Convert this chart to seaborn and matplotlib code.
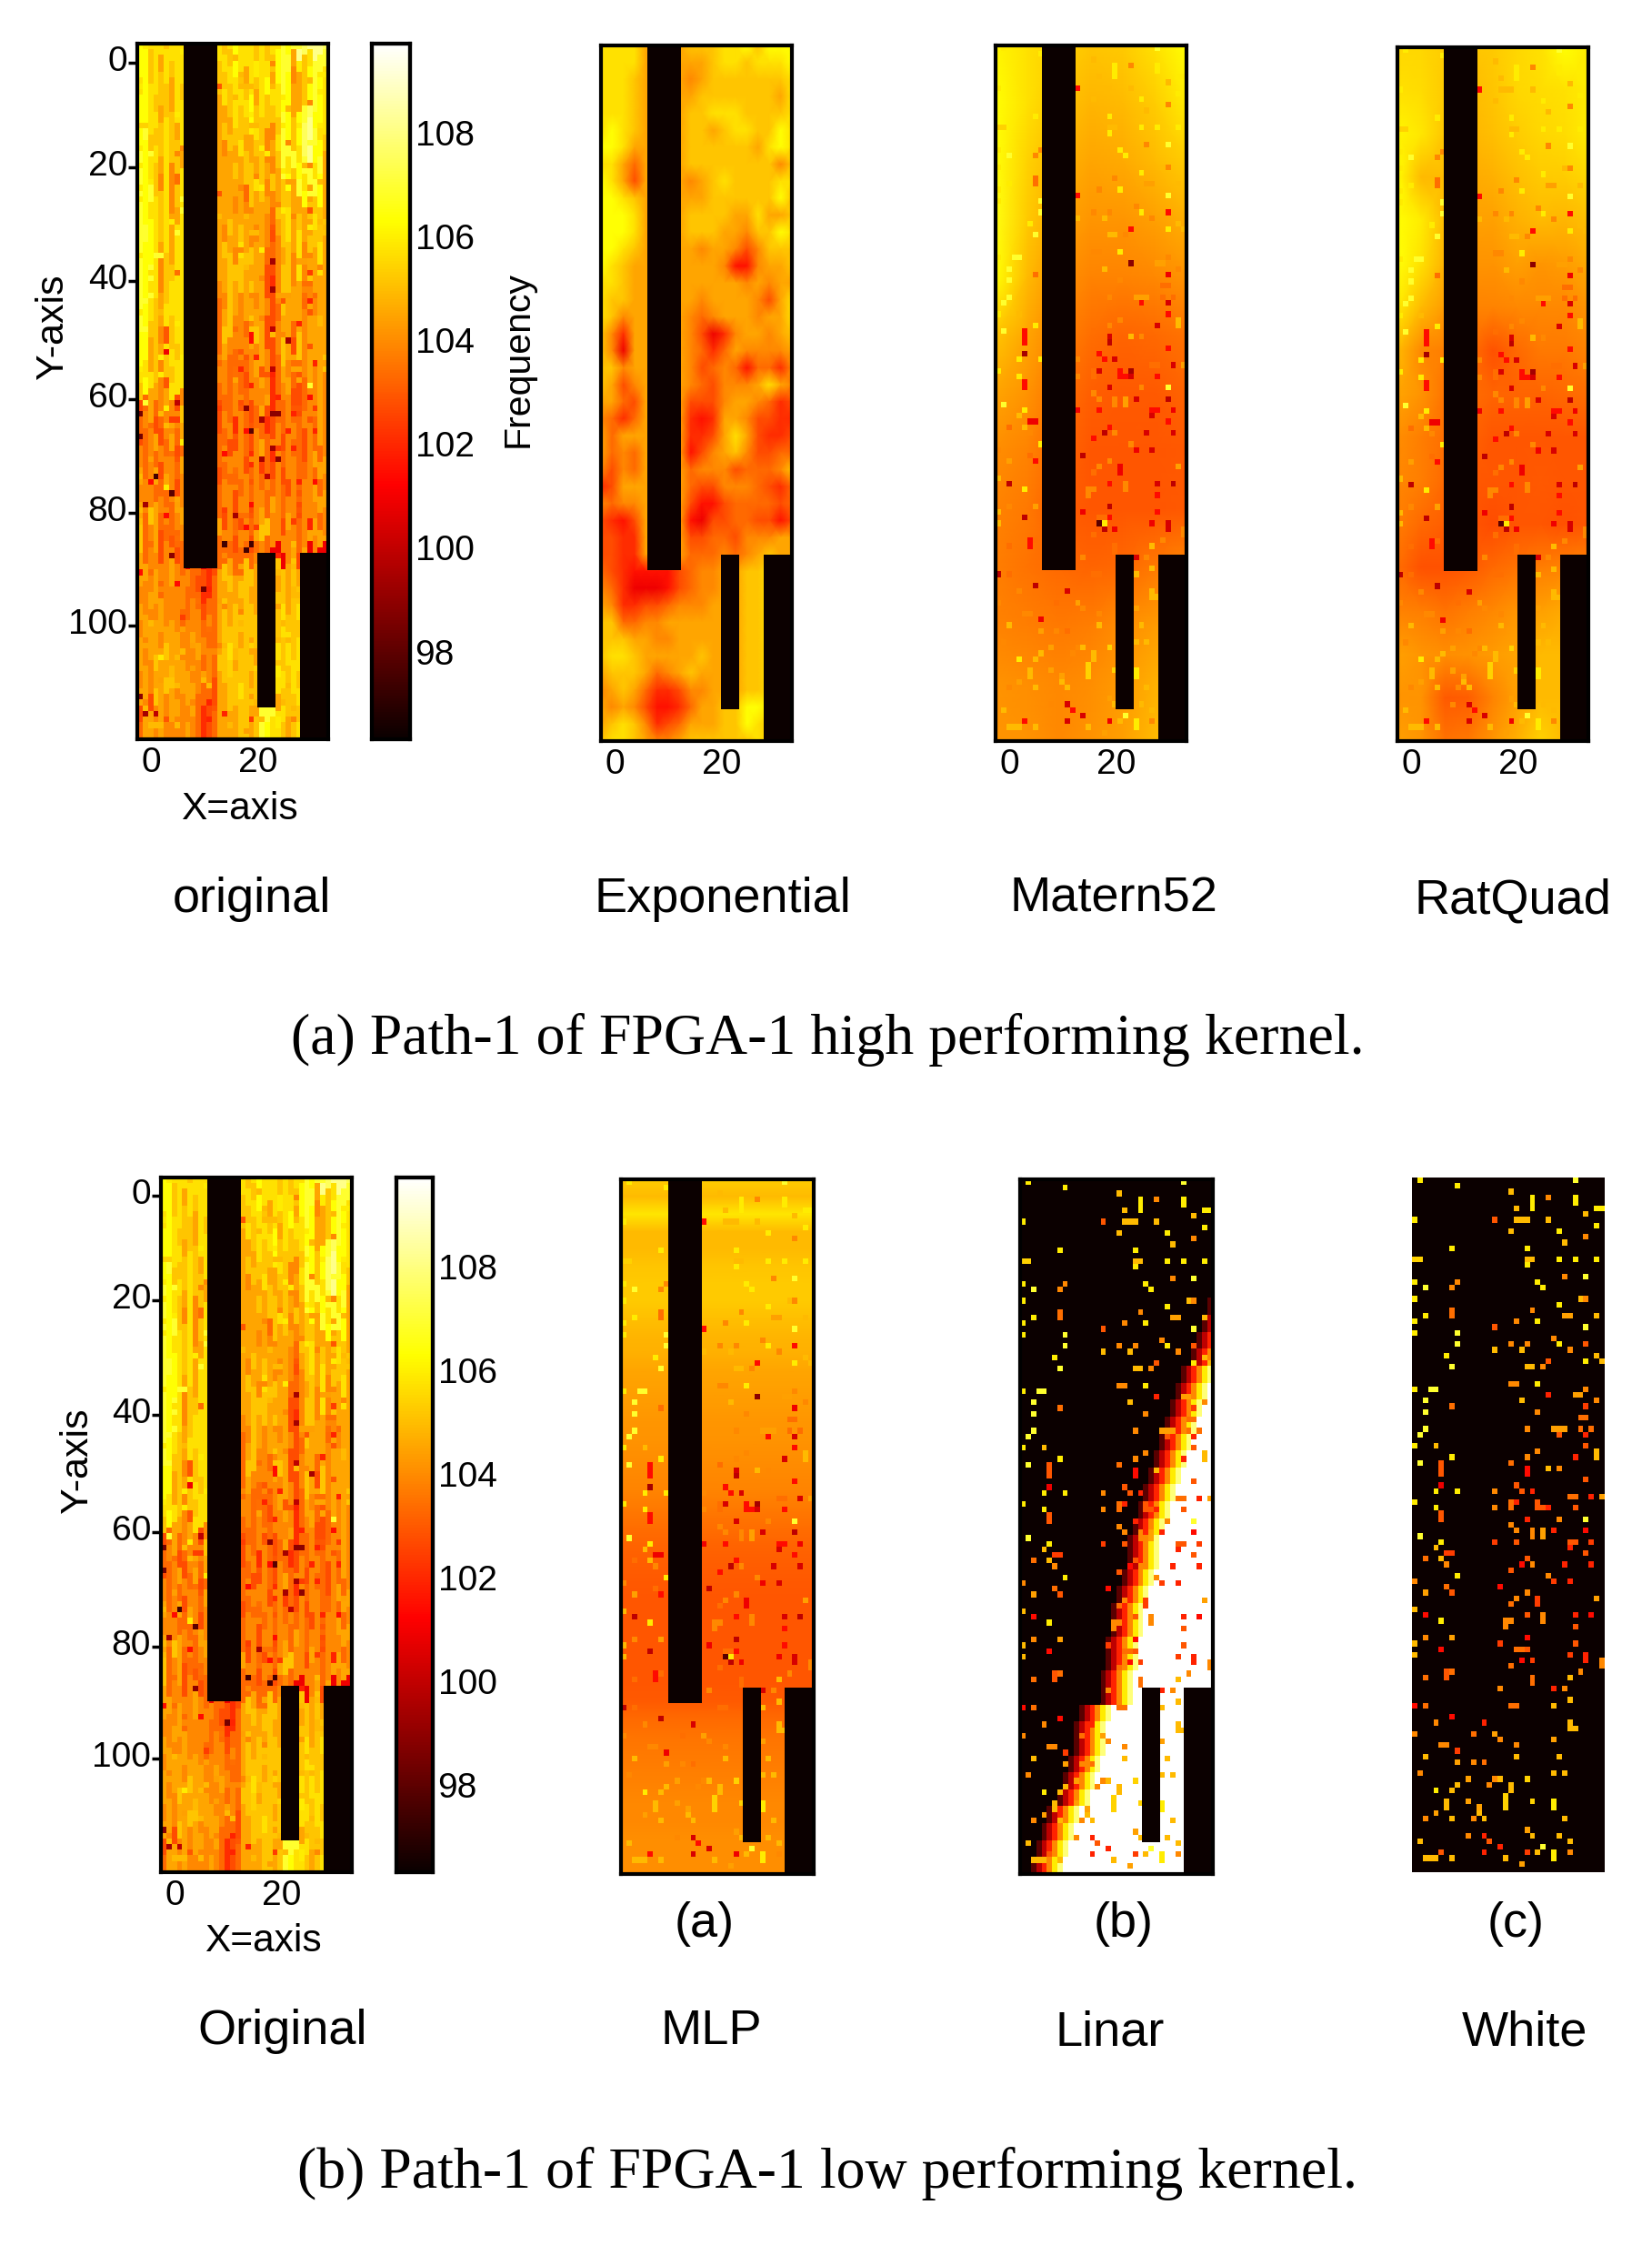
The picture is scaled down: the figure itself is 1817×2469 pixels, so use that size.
import numpy as np
import matplotlib
matplotlib.use("Agg")
import matplotlib.pyplot as plt
from matplotlib.transforms import Affine2D, ScaledTranslation
import seaborn as sns

sns.set_style("white")
plt.rcParams["font.family"] = ["Liberation Sans", "DejaVu Sans"]
for key in ("text.color", "xtick.color", "ytick.color", "axes.labelcolor"):
    plt.rcParams[key] = "black"

W, H = 1817, 2469
VMIN, VMAX = 96.4, 109.8
N_COLS, N_ROWS = 36, 123

# ---------- data: level codes, every 3 rows ----------
LEVEL_CODES = "0123456789ABC"
LEVEL_START, LEVEL_STEP = 101.0, 0.6

original_left = ["998887888","997868788","897878688","998777687","998867788","9A8778768","A97878778",
    "A98768576","A98758578","A9A878578","A98878668","AA9878688","A99868688","A99857788","A98857888",
    "A98767888","A98768788","997758788","996768878","886757788","798657888",
    "346456535","456345657","345635646","545454534","645635546","555446535","655654465","747645456",
    "745634545","645535634","665655654","555645555","656565555","565665654","666656665","656767665",
    "565666766","665767656","353565665","466565555"]
original_mid = ["000000"] * 31 + ["544323","443224","454344","555454","565544","556454","655454","665443","564233","654234"]
original_right = ["878988878788A9ACBCCCB","787988878879AA6678AAA","778876878969A95679A98","687887968788996679A98",
    "667878978778A969AB998","676777687557A979BCA88","657686677568AA78BC997","666767767657A8A9AC8A6",
    "666667787576797A8AA96","666564767656776696796","666665666547786767876","657676556536786866777",
    "676586766445676857686","667777666335775856686","567676766325775657666","457656656535766645566",
    "467556766334666656666","477554676335764756666","465455556535763756666","554644566534656656567",
    "454543556524564346565","344534345324453345565","354254346234454455465","445354354435355435465",
    "453554256425454435645","345453455435355445466","454345454445435455645","455355355465455355566",
    "635435456755365455645","455355367455555456566","444444455500056360000","676667760007767600000",
    "667677660006767700000","676767760007867800000","676777770007877700000","677767670007787800000",
    "778677760008787800000","677777670007878700000","667787770008778800000","66767766AAA6877700000",
    "66667767A988767800000"]

exponential_rows = ["888866667778897999","888866666678878889","888766665677777778","888766666777777768",
    "888766667788877778","898766667767887798","998666667777776898","886466667777777757",
    "986366665678777788","998766666677777797","999866667777668667","999866667776657798",
    "998766666566535777","987666666665115667","887666666666656566","877666666566665368",
    "875666665456665668","752666665302566567","750666665424655556","775666665345414425",
    "763566665435556865","664366663335665423","542466662126653322","646666662236863223",
    "645466661356753344","535466664555344457","236666664335554324","545566663113444434",
    "321366661033443313","332266663344355566","332266664445456766",
    "432111134556677876","542000134556677866","652233455566677866","774455666666677866",
    "777665566666677886","788766666766677886","677764567666677886","567642235566677886",
    "656531124667799866","678752346667798766","788765567777778766"]

matern_rows = [
    [106.2,105.8,105.5,105.2,105.3,105.8,106.4],[106.4,105.8,105.2,104.9,105.0,105.4,106.0],
    [106.5,105.5,104.9,104.6,104.7,105.0,105.4],[106.6,105.3,104.6,104.3,104.3,104.5,104.8],
    [106.4,105.0,104.2,103.9,103.9,104.0,104.2],[105.2,104.6,103.9,103.5,103.3,103.4,103.6],
    [104.6,104.2,103.6,103.2,103.1,103.1,103.3],[104.1,103.9,103.4,103.0,103.0,103.0,103.1],
    [103.9,103.7,103.2,103.0,103.0,103.0,103.1],[103.8,103.6,103.4,103.3,103.4,103.7,104.0],
    [103.9,103.8,103.7,103.8,104.1,104.4,104.6],[104.2,104.1,104.0,104.1,104.4,104.8,105.0],
    [104.3,104.2,104.0,104.2,104.5,105.0,105.0]]

ratquad_rows = [
    [105.6,105.6,105.4,105.2,105.3,105.6,105.8,106.4,106.0],[105.8,105.7,105.3,105.0,105.2,105.6,105.7,105.8,106.0],
    [106.2,105.9,105.2,104.9,105.1,105.4,105.6,105.7,106.0],[106.3,105.0,105.0,104.7,104.8,105.1,105.3,105.4,105.6],
    [106.4,106.0,105.0,104.5,104.5,104.8,105.0,104.9,105.1],[106.5,105.8,104.8,104.2,104.2,104.5,104.3,104.4,104.7],
    [106.0,105.0,104.4,103.9,103.9,104.0,104.0,104.0,104.2],[105.0,104.0,103.8,103.6,102.9,103.4,103.7,103.7,103.9],
    [104.6,104.2,103.6,103.5,103.3,103.3,103.3,103.4,103.5],[104.1,103.8,103.5,103.3,103.0,103.0,103.0,103.0,103.0],
    [104.0,103.8,103.4,103.1,103.0,103.0,103.1,103.0,103.0],[103.8,103.4,103.2,103.0,102.8,103.0,103.0,102.9,103.0],
    [103.5,102.9,102.9,103.1,103.4,103.6,103.8,103.9,104.0],[103.9,103.8,103.6,103.8,104.0,104.3,104.5,104.7,104.7],
    [104.5,104.3,104.1,104.2,104.4,104.6,105.0,105.0,105.0],[104.3,104.2,103.1,103.2,103.9,104.5,105.0,105.0,105.0],
    [104.5,104.3,103.6,103.7,104.3,104.8,105.5,105.0,105.0]]

mlp_profile = [105.4,105.0,105.9,105.0,105.0,105.2,105.3,105.3,105.1,104.9,104.8,104.6,104.5,104.4,
    104.3,104.2,104.1,104.0,103.9,103.7,103.5,103.3,103.2,103.1,103.0,103.0,103.0,103.0,103.0,103.0,
    103.1,103.4,103.6,103.7,103.8,103.9,104.0,104.0,104.1,104.1,104.1]

linar_edge = [40,40,40,40,40,40,36,35,34,33,32,30,29,28,27,26,25,24,23,22,21,20,20,19,18,17,17,16,16,15,15,
    11,10,10,9,8,7,5,4,3,2]
linar_band = [98.0,100.0,102.0,104.0,106.0,108.0]

# fabric blocks without frequency data: column start, column end, row start, row end
blocked_regions = [(8.8, 15.1, 0, 92.8), (22.7, 26.1, 90, 117.4), (30.6, 36, 90, 123)]

# measured cells (column, row, frequency)
measured_cells = [
 (1,0,106),(8,1,106),(18,2,105),(22,3,106),(22,4,106),(22,5,106),(25,3,104),(30,0,107),(30,3,106),(30,4,106),
 (34,5,106),(35,5,106),(32,6,105),(34,8,106),(19,5,105),(15,7,103),(19,7,105),(20,7,105),(21,7,105),(25,7,105),
 (18,9,105),(27,9,106),(32,10,104),(28,11,105),(21,12,106),(7,12,106),(0,7,106),(0,14,105.5),(1,14,105.5),
 (21,14,105),(22,14,105),(21,15,106),(27,14,106),(30,14,106),(34,14,106),(28,17,104),(32,17,107),(23,18,106),
 (24,19,106),(0,18,106),(2,19,107),(8,18,104),(7,19,104),(0,21,106),(27,22,106),(31,21,105),(32,21,104),(22,23,104),
 (7,23,103.5),(7,24,103.5),(2,24,106),(28,24,104.5),(29,24,104.5),(34,24,105),(19,25,104),(15,26,103),(23,25,106),
 (32,26,107),(0,25,106),(0,27,106),(8,27,107),(8,29,107),(26,28,104),(27,29,106),(18,29,104),(21,29,104),(20,30,105),
 (15,30,105),(32,29,103),(29,30,104),(6,31,106),(25,32,103),(24,33,104),(32,32,106),(34,31,105),(35,32,105),(7,33,107),
 (21,33,105),(22,33,105),(18,36,104),(19,36,104),(23,36,106),(0,37,106),(4,37,107),(3,37,107),(25,38,102),(30,38,104.5),
 (31,38,104.5),(32,37,104),(2,39,107),(20,39,105),(34,39,104),(7,40,103.5),(32,40,102.5),(2,41,107),(23,41,104),(31,42,103.5),
 (32,42,103.5),(2,44,107),(1,45,107),(21,44,104),(26,44,104.5),(27,44,104.5),(28,44,104.5),(27,45,103),(32,45,102),
 (33,44,103.5),(31,44,103.5),(0,47,106),(4,47,105),(23,48,104),(32,47,103),(1,50,107),(7,49,106),(21,49,104),(18,50,103.5),
 (30,49,102),(34,48,105),(34,49,105),(5,50,103),(5,51,103),(5,52,103),(25,51,105),(27,51,104),(21,51,101.5),(21,52,101.5),
 (32,53,103),(5,54,101),(19,54,103),(20,55,103),(22,55,102),(4,55,106),(8,55,106),(15,55,104),(29,56,103.5),(30,56,103.5),
 (33,56,102),(35,56,104.5),(0,57,106),(18,57,103.5),(18,58,103.5),(19,57,102),(23,57,103),(23,58,103),(24,58,103),(25,58,102),
 (4,58,106),(15,58,104),(30,58,103),(5,59,103),(5,60,103),(21,60,102),(27,60,104),(32,60,107),(18,61,104),(19,62,104),
 (22,62,104),(22,63,104),(24,62,104.5),(24,63,104.5),(26,62,102),(32,62,101.5),(1,63,107),(5,64,106),(4,65,105),(15,64,102.5),
 (19,64,103),(29,64,103),(30,64,103),(33,64,102.5),(32,66,103),(6,66,102.5),(7,66,102.5),(29,65,102),(2,67,103.5),(5,67,105),
 (6,68,104),(21,67,103),(20,68,101.5),(22,68,104),(28,68,102),(33,68,102),(18,69,103),(8,70,106),(25,70,104),(26,71,102.5),
 (29,71,102),(0,71,104),(16,72,101.5),(6,72,103.5),(7,73,103),(2,73,104.5),(21,73,104),(19,74,104),(18,75,103.5),(23,74,102.5),
 (23,75,102.5),(34,74,104.5),(0,76,105),(2,77,101.5),(5,78,106),(17,78,104),(17,79,104),(18,78,104),(21,77,103),(24,77,104),
 (24,78,104),(30,77,102),(33,77,101.5),(30,79,103),(2,81,104),(7,81,104.5),(21,81,101.5),(0,82,105),(16,82,102.5),(30,82,103),
 (19,83,103.5),(20,83,103.5),(21,83,103),(5,83,101.5),(0,84,105),(20,85,101.5),(22,85,102.5),(29,84,102.5),(32,84,102),(32,85,102),
 (35,85,104),(35,86,104),(18,86,103.5),(31,87,104),(29,88,105),(2,88,103.5),(6,87,103),(6,88,103),(7,87,103.5),(22,88,103.5),
 (22,89,103.5),(16,90,104),(26,90,102),(28,90,104),(29,92,105),(0,93,101.5),(2,93,103.5),(18,93,103.5),(19,93,103.5),(26,93,105),
 (7,95,101.5),(13,96,102),(4,96,104),(29,96,105),(29,97,105),(30,97,105),(0,98,104),(11,98,103.5),(15,98,104.5),(16,99,104),
 (26,99,104.5),(5,100,104),(6,100,104),(19,100,104),(8,101,102.5),(2,102,105),(19,102,105),(27,102,105),(8,103,104.5),(11,103,104),
 (13,103,103.5),(26,105,105),(28,105,105),(1,105,104),(15,106,104),(16,106,105),(10,106,104.5),(21,106,105.5),(8,107,105),(14,107,104),
 (18,107,105),(18,108,105),(4,108,106),(7,108,105),(10,110,104.5),(22,110,105.5),(17,109,105.5),(17,110,105.5),(17,111,105.5),
 (6,110,105),(6,111,105),(26,110,106),(26,111,106),(12,111,104.5),(28,113,105),(4,112,104.5),(2,113,104),(7,113,105),(12,112,105),
 (11,113,104),(13,113,105),(21,115,104.5),(22,116,105),(10,116,104),(13,116,102),(14,117,103),(27,116,105),(1,117,105),(29,117,105),
 (16,118,102),(24,118,107),(23,119,105),(5,119,103),(13,119,102),(21,119,102.5),(29,119,104),(2,120,105),(3,120,105),(4,120,105),
 (7,120,105),(17,120,105),(26,119,106),(26,120,106),(20,121,104.5)]

original_dark_cells = [(21,68,98),(0,65,98.5),(0,69,98.5),(3,76,97.5),(6,79,98),(1,81,99.5),(16,88,97.5),(20,89,97.5),
 (21,88,97.5),(6,90,99),(12,96,98.5),(0,115,99),(1,118,99.5),(3,118,100),(20,64,99),(25,65,99),(26,65,99),(23,66,99.5),
 (25,71,99.5),(23,73,99.5),(26,73,99),(25,38,99.5),(25,43,99.5),(25,50,100),(28,52,99.5),(25,57,100),(18,83,99.5),
 (7,63,100),(24,76,100)]
fit_dark_cells = [(25,38,99),(19,84,98),(20,84,106),(25,57,99.5),(21,51,100.5),(5,54,99.5)]

x_ticks = [0, 20]
y_ticks = [0, 20, 40, 60, 80, 100]
y_tick_rows = [3.3, 21.8, 42.0, 62.8, 83.0, 102.9]
cbar_ticks = [98, 100, 102, 104, 106, 108]
X_ORIGIN = 1.5

titles_top = ["original", "Exponential", "Matern52", "RatQuad"]
titles_bottom = ["Original", "MLP", "Linar", "White"]
sub_labels = ["(a)", "(b)", "(c)"]
caption_a = "(a) Path-1 of FPGA-1 high performing kernel."
caption_b = "(b) Path-1 of FPGA-1 low performing kernel."


def decode(rows):
    return np.array([[LEVEL_START + LEVEL_STEP * LEVEL_CODES.index(ch) for ch in row] for row in rows])


def paint(grid, cells, fit_shift=False):
    for c, r, v in cells:
        grid[r, c] = v - 1.5 if (fit_shift and v <= 103) else v
    return grid


def original_grid():
    rows = [a + b + c for a, b, c in zip(original_left, original_mid, original_right)]
    coded = decode(rows)
    grid = np.zeros((N_ROWS, N_COLS))
    # the 3-row readings are staggered by column so that the cells do not line up in bands
    for r in range(N_ROWS):
        for c in range(N_COLS):
            grid[r, c] = coded[min((r + c % 3) // 3, len(rows) - 1), c]
    paint(grid, measured_cells)
    paint(grid, original_dark_cells)
    return grid


def overlay_grid():
    grid = np.full((N_ROWS, N_COLS), np.nan)
    paint(grid, measured_cells, fit_shift=True)
    paint(grid, fit_dark_cells)
    return grid


def linar_grid():
    grid = np.full((N_ROWS, N_COLS), VMAX)
    for i, edge in enumerate(linar_edge):
        for r in range(3 * i, min(3 * i + 3, N_ROWS)):
            grid[r, :min(edge, N_COLS)] = VMIN
            for k, v in enumerate(linar_band):
                if edge + k < N_COLS:
                    grid[r, edge + k] = v
    return paint(grid, measured_cells)


def white_grid():
    grid = np.full((N_ROWS, N_COLS), VMIN)
    return paint(grid, measured_cells)


fig = plt.figure(figsize=(W / 100, H / 100), dpi=100)
fig.patch.set_facecolor("white")


def make_ax(box):
    x0, y0, x1, y1 = box
    return fig.add_axes([x0 / W, 1 - y1 / H, (x1 - x0) / W, (y1 - y0) / H])


def hm(ax, data, **kw):
    sns.heatmap(data, ax=ax, cmap="hot", vmin=VMIN, vmax=VMAX, xticklabels=False, yticklabels=False,
                cbar=kw.pop("cbar", False), **kw)


def smooth(ax, coarse, **kw):
    n_y, n_x = coarse.shape
    hm(ax, coarse, shading="gouraud", **kw)
    ax.collections[-1].set_transform(Affine2D().scale(N_COLS / (n_x - 1), N_ROWS / (n_y - 1)) + ax.transData)


def draw_blocks(ax):
    for c0, c1, r0, r1 in blocked_regions:
        hm(ax, np.array([[VMIN]]))
        ax.collections[-1].set_transform(Affine2D().scale(c1 - c0, r1 - r0).translate(c0, r0) + ax.transData)


def shift_labels(labels, dx, dy):
    for lb in labels:
        lb.set_transform(lb.get_transform() + ScaledTranslation(dx / 100, dy / 100, fig.dpi_scale_trans))


def finish(ax, show_x=True, show_y=False, frame=True):
    ax.set_xlim(0, N_COLS)
    ax.set_ylim(N_ROWS, 0)
    if show_x:
        ax.set_xticks([v + X_ORIGIN for v in x_ticks])
        ax.set_xticklabels([str(v) for v in x_ticks], fontsize=28)
        ax.tick_params(axis="x", bottom=True, direction="in", length=8, width=2.5, pad=6, color="black")
        shift_labels(ax.get_xticklabels(), 7, 0)
    else:
        ax.set_xticks([])
    if show_y:
        ax.set_yticks(y_tick_rows)
        ax.set_yticklabels([str(v) for v in y_ticks], fontsize=28, rotation=0)
        ax.tick_params(axis="y", left=True, direction="inout", length=14, width=2.5, pad=1, color="black")
        shift_labels(ax.get_yticklabels(), 0, 5)
    else:
        ax.set_yticks([])
    for s in ax.spines.values():
        s.set_visible(frame)
        s.set_linewidth(3)
        s.set_color("black")
    ax.set_zorder(2)


def original_panel(ax, cax):
    hm(ax, original_grid(), cbar=True, cbar_ax=cax)
    draw_blocks(ax)
    cax.set_yticks(cbar_ticks)
    cax.set_yticklabels([str(v) for v in cbar_ticks], fontsize=28)
    cax.tick_params(axis="y", right=True, direction="in", length=10, width=2.5, pad=4, color="black", labelright=True)
    shift_labels(cax.get_yticklabels(), 0, 5)
    for s in cax.spines.values():
        s.set_visible(True)
        s.set_linewidth(3)
        s.set_color("black")


S = W / 1154


def label(x, y, s, size, rotation=0, family=None):
    fig.text(x * S / W, 1 - y * S / H, s, fontsize=size, rotation=rotation, ha="center", va="center",
             family=family or ["Liberation Sans"])


# --- top row ---
ax = make_ax((151, 48, 361, 813))
original_panel(ax, make_ax((409, 48, 451, 813)))
finish(ax, show_y=True)

ax = make_ax((661, 50, 871, 815))
smooth(ax, decode(exponential_rows))
draw_blocks(ax)
finish(ax)

ax = make_ax((1095, 50, 1305, 815))
smooth(ax, np.array(matern_rows))
hm(ax, overlay_grid())
draw_blocks(ax)
finish(ax)

ax = make_ax((1537, 52, 1747, 815))
smooth(ax, np.array(ratquad_rows))
hm(ax, overlay_grid())
draw_blocks(ax)
finish(ax)

# --- bottom row ---
ax = make_ax((177, 1295, 387, 2059))
original_panel(ax, make_ax((436, 1295, 476, 2059)))
finish(ax, show_y=True)

ax = make_ax((683, 1297, 895, 2061))
smooth(ax, np.tile(np.array(mlp_profile)[:, None], (1, 2)))
hm(ax, overlay_grid())
draw_blocks(ax)
finish(ax, show_x=False)

ax = make_ax((1122, 1297, 1334, 2061))
hm(ax, linar_grid())
draw_blocks(ax)
finish(ax, show_x=False)

ax = make_ax((1553, 1295, 1765, 2059))
hm(ax, white_grid())
finish(ax, show_x=False, frame=False)

# --- text ---
label(37, 228, "Y-axis", 31, rotation=90)
label(167, 565, "X=axis", 30.5)
label(362, 251, "Frequency", 29.5, rotation=90)
label(54, 1020, "Y-axis", 31, rotation=90)
label(184, 1356, "X=axis", 30.5)
for (x, y), t in zip([(176, 628), (505, 628), (778, 628), (1057, 629)], titles_top):
    label(x, y, t, 39)
for (x, y), t in zip([(197, 1419), (497, 1419), (775, 1420), (1065, 1420)], titles_bottom):
    label(x, y, t, 39)
for (x, y), t in zip([(492, 1344), (785, 1344), (1059, 1344)], sub_labels):
    label(x, y, t, 39)
label(578, 726, caption_a, 46, family=["Liberation Serif"])
label(578, 1518, caption_b, 46, family=["Liberation Serif"])

fig.savefig("out.png", dpi=100, facecolor="white")
